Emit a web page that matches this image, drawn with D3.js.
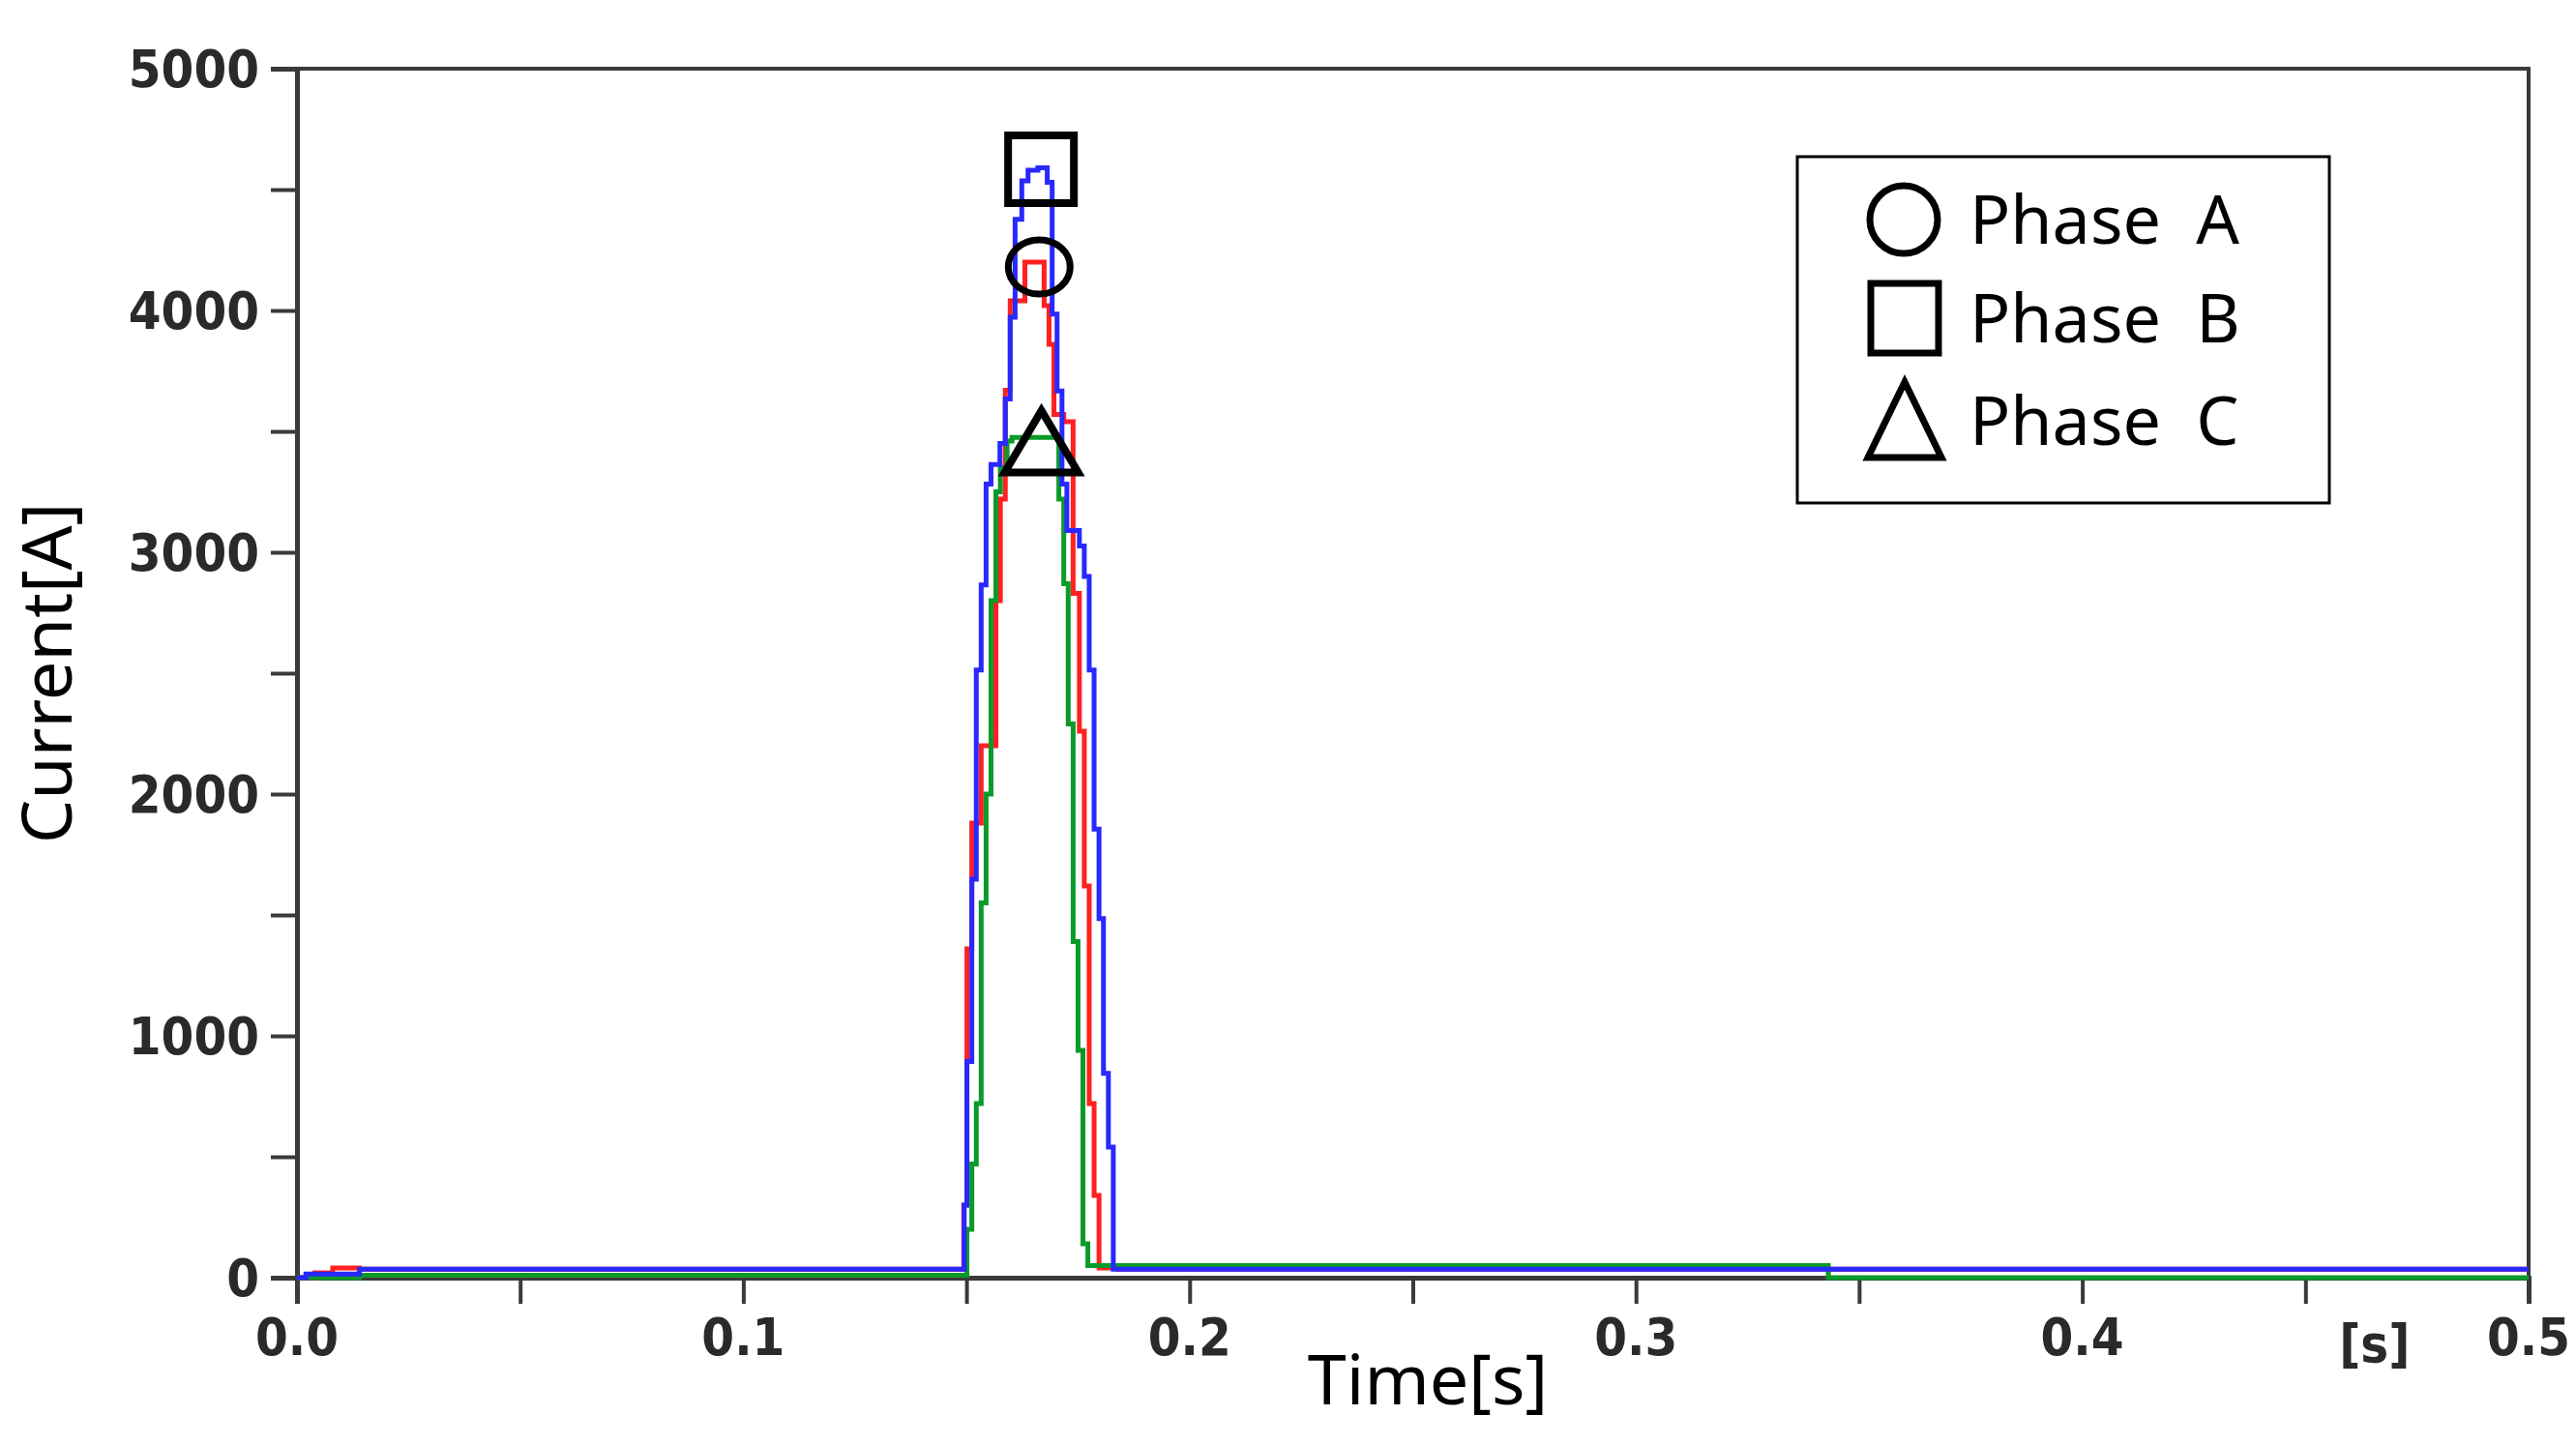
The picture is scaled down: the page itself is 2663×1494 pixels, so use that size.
<!DOCTYPE html>
<html><head><meta charset="utf-8">
<script src="https://cdn.jsdelivr.net/npm/d3@7"></script>
<style>body{margin:0;background:#fff}</style>
</head><body><div id="chart"></div>
<script>
// time [s], current [A] pairs, step-after
var phaseA = [[0,0],[0.004,20],[0.008,40],[0.014,35],[0.1494,300],[0.1501,1360],[0.1512,1880],[0.1533,2200],[0.1566,2800],[0.1576,3220],
  [0.1587,3670],[0.1598,4040],[0.1631,4200],[0.1663,4200],[0.1674,4020],[0.1685,3860],[0.1696,3570],[0.1718,3540],[0.1739,2830],
  [0.1753,2260],[0.1764,1620],[0.1775,720],[0.1786,340],[0.1797,40],[0.184,35],[0.5,35]];
var phaseB = [[0,0],[0.002,15],[0.014,35],[0.1495,300],[0.1501,894],[0.1512,1648],[0.1522,2513],[0.1533,2865],[0.1544,3282],[0.1555,3363],
  [0.1575,3450],[0.1587,3634],[0.1598,3972],[0.1609,4377],[0.1624,4536],[0.1638,4580],[0.1660,4590],[0.1681,4530],[0.1692,3985],
  [0.1703,3667],[0.1714,3282],[0.1725,3090],[0.1753,3026],[0.1764,2900],[0.1775,2513],[0.1786,1855],[0.1797,1485],[0.1807,845],
  [0.1818,540],[0.1829,35],[0.5,35]];
var phaseC = [[0,0],[0.014,10],[0.1495,10],[0.1501,200],[0.1512,470],[0.1522,720],[0.1533,1550],[0.1544,2000],[0.1555,2800],[0.1566,3250],
  [0.1576,3350],[0.1591,3460],[0.1602,3475],[0.1696,3475],[0.1707,3220],[0.1718,2870],[0.1728,2290],[0.1739,1390],[0.1750,940],
  [0.1761,140],[0.1772,50],[0.343,50],[0.3431,0],[0.5,0]];
var xTickLabels = [0, 0.1, 0.2, 0.3, 0.4, 0.5];
var yTickLabels = [0, 1000, 2000, 3000, 4000, 5000];
var legendNames = ["Phase  A", "Phase  B", "Phase  C"];

var W = 2663, H = 1494,
    L = 307, R = 2614, T = 71, B = 1321;

var svg = d3.select("#chart").append("svg").attr("width", W).attr("height", H);

var x = d3.scaleLinear().domain([0, 0.5]).range([L, R]),
    y = d3.scaleLinear().domain([0, 5000]).range([B, T]);

// frame
svg.append("rect").attr("x", L).attr("y", T).attr("width", R - L).attr("height", B - T)
    .attr("fill", "none").attr("stroke", "#3a3a3a").attr("stroke-width", 4);

var font = "'Liberation Sans Narrow','DejaVu Sans Condensed','Liberation Sans',sans-serif";

var xAxis = svg.append("g").attr("transform", "translate(0," + B + ")")
    .call(d3.axisBottom(x).tickValues(d3.range(0, 0.5001, 0.05)).tickSize(27).tickFormat(""));
var yAxis = svg.append("g").attr("transform", "translate(" + L + ",0)")
    .call(d3.axisLeft(y).tickValues(d3.range(0, 5001, 500)).tickSize(27).tickFormat(""));
[xAxis, yAxis].forEach(function(a) {
    a.select(".domain").attr("stroke", "#3a3a3a").attr("stroke-width", 5);
    a.selectAll(".tick line").attr("stroke", "#3a3a3a").attr("stroke-width", 4);
});

svg.selectAll(".xl").data(xTickLabels).enter().append("text")
    .attr("x", function(d) { return x(d); }).attr("y", 1401)
    .attr("text-anchor", "middle").attr("font-family", font).attr("font-weight", "bold")
    .attr("font-size", 54).attr("fill", "#2a2a2a").text(function(d) { return d.toFixed(1); });
svg.append("text").attr("x", x(0.4655)).attr("y", 1408).attr("text-anchor", "middle")
    .attr("font-family", font).attr("font-weight", "bold").attr("font-size", 54).attr("fill", "#2a2a2a").text("[s]");
svg.selectAll(".yl").data(yTickLabels).enter().append("text")
    .attr("x", 268).attr("y", function(d) { return y(d) + 19; })
    .attr("text-anchor", "end").attr("font-family", font).attr("font-weight", "bold")
    .attr("font-size", 54).attr("fill", "#2a2a2a").text(function(d) { return d; });

svg.append("text").attr("x", 1476).attr("y", 1452).attr("text-anchor", "middle")
    .attr("font-family", "'Noto Sans',sans-serif").attr("font-size", 72).text("Time[s]");
svg.append("text").attr("transform", "translate(74," + ((T + B) / 2) + ") rotate(-90)")
    .attr("text-anchor", "middle").attr("font-family", "'Noto Sans',sans-serif").attr("font-size", 72).text("Current[A]");

var line = d3.line().x(function(d) { return x(d[0]); }).y(function(d) { return y(d[1]); }).curve(d3.curveStepAfter);
[[phaseA, "#ff2020"], [phaseC, "#0a9a2a"], [phaseB, "#2828ff"]].forEach(function(s) {
    svg.append("path").datum(s[0]).attr("d", line).attr("fill", "none")
        .attr("stroke", s[1]).attr("stroke-width", 5);
});

// peak markers
var mk = "#000";
svg.append("rect").attr("x", x(0.1667) - 34).attr("y", y(4580) - 36).attr("width", 68).attr("height", 70)
    .attr("fill", "none").attr("stroke", mk).attr("stroke-width", 8);
svg.append("ellipse").attr("cx", x(0.1663)).attr("cy", y(4180)).attr("rx", 32).attr("ry", 28)
    .attr("fill", "none").attr("stroke", mk).attr("stroke-width", 7);
var tx = x(0.1668), ty = y(3330);
svg.append("path").attr("d", "M" + (tx - 38) + "," + ty + "L" + tx + "," + (ty - 64) + "L" + (tx + 38) + "," + ty + "Z")
    .attr("fill", "none").attr("stroke", mk).attr("stroke-width", 8);

// legend
var lg = svg.append("g");
lg.append("rect").attr("x", 1858).attr("y", 162).attr("width", 550).attr("height", 358)
    .attr("fill", "#fff").attr("stroke", "#000").attr("stroke-width", 3);
var rows = [227, 329, 435];
lg.append("circle").attr("cx", 1968).attr("cy", rows[0]).attr("r", 35).attr("fill", "none").attr("stroke", mk).attr("stroke-width", 7);
lg.append("rect").attr("x", 1934).attr("y", rows[1] - 36).attr("width", 70).attr("height", 72).attr("fill", "none").attr("stroke", mk).attr("stroke-width", 7);
lg.append("path").attr("d", "M1931," + (rows[2] + 38) + "L1969," + (rows[2] - 40) + "L2007," + (rows[2] + 38) + "Z")
    .attr("fill", "none").attr("stroke", mk).attr("stroke-width", 7);
lg.selectAll(".lt").data(legendNames).enter().append("text")
    .attr("x", 2036).attr("y", function(d, i) { return rows[i] + 25; })
    .attr("font-family", "'Noto Sans',sans-serif").attr("font-size", 70)
    .style("white-space", "pre").text(function(d) { return d; });
</script>
</body></html>
